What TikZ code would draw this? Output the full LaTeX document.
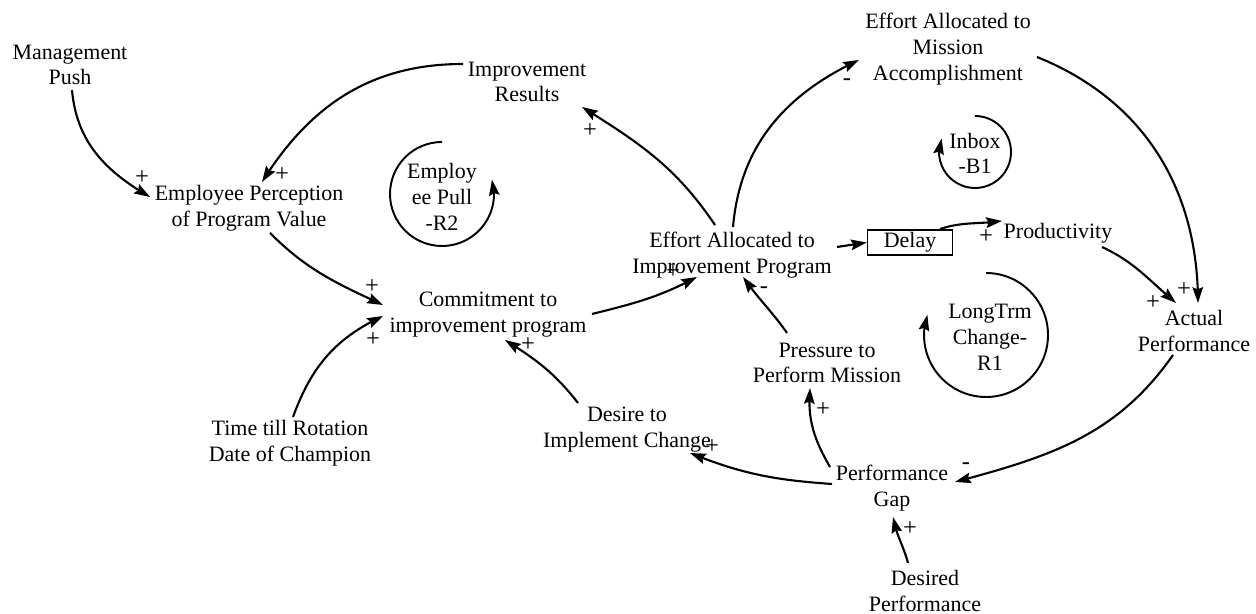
\documentclass[tikz,border=0pt]{standalone}
\usepackage{fontspec}
\setmainfont{Liberation Serif}
\usetikzlibrary{arrows.meta,bending}
\begin{document}
\begin{tikzpicture}[x=0.02cm,y=0.02cm,
  lbl/.style={align=center,inner sep=0pt,font=\fontsize{12.5}{14.7}\selectfont},
  sgn/.style={inner sep=0pt,font=\fontsize{14}{14}\selectfont},
  arr/.style={line width=1.2pt,-{Stealth[length=9pt,width=6pt,inset=1.3pt]}},
  looparc/.style={line width=1.1pt,-{Stealth[length=9pt,width=6pt,inset=1.3pt]}},
  delaybox/.style={draw,line width=0.9pt,minimum width=48.2pt,minimum height=14.2pt,inner sep=0pt,font=\fontsize{12.5}{14}\selectfont}]
\useasboundingbox (0,0) rectangle (1256,614);
\fill[white] (0,0) rectangle (1256,614);

% variables
\node[lbl] (mp)   at (70,549)   {Management\\Push};
\node[lbl] (epv)  at (249,406)  {Employee Perception\\of Program Value};
\node[lbl] (ir)   at (527,532)  {Improvement\\Results};
\node[lbl] (com)  at (488,299)  {Commitment to\\improvement program};
\node[lbl] (eai)  at (732,359)  {Effort Allocated to\\Improvement Program};
\node[delaybox] (delay) at (910,371.5) {Delay};
\node[lbl] (prod) at (1058,381) {Productivity};
\node[lbl] (eam)  at (948,565)  {Effort Allocated to\\Mission\\Accomplishment};
\node[lbl] (act)  at (1194,283) {Actual\\Performance};
\node[lbl] (pres) at (827,251)  {Pressure to\\Perform Mission};
\node[lbl] (gap)  at (892,126)  {Performance\\Gap};
\node[lbl] (des)  at (627,184)  {Desire to\\Implement Change};
\node[lbl] (time) at (290,171)  {Time till Rotation\\Date of Champion};
\node[lbl] (dp)   at (925,23)   {Desired\\Performance};

% loop labels
\node[lbl] (r2) at (442,417)   {Employ\\ee Pull\\-R2};
\node[lbl] (b1) at (975,460.5) {Inbox\\-B1};
\node[lbl] (r1) at (990,277)   {LongTrm\\Change-\\R1};
\coordinate (r2c) at (442,420);
\coordinate (b1c) at (975,462);
\coordinate (r1c) at (986,279);
\draw[looparc] ([shift={(90:52)}]r2c) arc[start angle=90,end angle=376,radius=52];
\draw[looparc] ([shift={(90:36)}]b1c) arc[start angle=90,end angle=-202,radius=36];
\draw[looparc] ([shift={(90:62)}]r1c) arc[start angle=90,end angle=-199,radius=62];

% connectors
\draw[arr] ([shift={(2,-25)}]mp.center) to[out=-85,in=150] ([shift={(-99,11)}]epv.center);
\draw[arr] ([shift={(-64,18)}]ir.center) to[out=180,in=58] ([shift={(13,26)}]epv.center);
\draw[arr] ([shift={(21,-25)}]epv.center) to[out=-45,in=155] ([shift={(-105,10)}]com.center);
\draw[arr] ([shift={(3,26)}]time.center) to[out=70,in=205] ([shift={(-105,-1)}]com.center);
\draw[arr] ([shift={(-49,27)}]des.center) to[out=128,in=-32] ([shift={(17,-25)}]com.center);
\draw[arr] ([shift={(104,1)}]com.center) to[out=14,in=-152] ([shift={(-35,-22)}]eai.center);
\draw[arr] ([shift={(-17,30)}]eai.center) to[out=124,in=-32] ([shift={(55,-25)}]ir.center);
\draw[arr] ([shift={(1,28)}]eai.center) to[out=85,in=205] ([shift={(-89,-11)}]eam.center);
\draw[arr] ([shift={(89,-8)}]eam.center) to[out=-22,in=90] ([shift={(4,28)}]act.center);
\draw[arr] ([shift={(44,-14)}]prod.center) to[out=-25,in=140] ([shift={(-18,28)}]act.center);
\draw[arr] ([shift={(105,8)}]eai.center) -- (delay.west);
\draw[arr] ([shift={(30,13.5)}]delay.center) to[out=18,in=188] ([shift={(-56,12)}]prod.center);
\draw[arr] ([shift={(-21,-24)}]act.center) to[out=235,in=15] ([shift={(63,6)}]gap.center);
\draw[arr] ([shift={(-62,21)}]gap.center) to[out=120,in=-95] ([shift={(-17,-25)}]pres.center);
\draw[arr] ([shift={(-60,4)}]gap.center) to[out=176,in=-22] ([shift={(63,-23)}]des.center);
\draw[arr] ([shift={(-40,30)}]pres.center) to[out=125,in=-55] ([shift={(11,-22)}]eai.center);
\draw[arr] ([shift={(-17,28)}]dp.center) to[out=105,in=-80] ([shift={(1,-29)}]gap.center);

% polarity signs
\node[sgn] (s1)  at (142,436)  {+};
\node[sgn] (s2)  at (282,439)  {+};
\node[sgn] (s3)  at (372,327)  {+};
\node[sgn] (s4)  at (373,274)  {+};
\node[sgn] (s5)  at (528,269)  {+};
\node[sgn] (s6)  at (590,483)  {+};
\node[sgn] (s7)  at (847,532)  {-};
\node[sgn] (s8)  at (764,324)  {-};
\node[sgn] (s9)  at (986,377)  {+};
\node[sgn] (s10) at (1184,324) {+};
\node[sgn] (s11) at (1153,311) {+};
\node[sgn] (s12) at (966,148)  {-};
\node[sgn] (s13) at (823,204)  {+};
\node[sgn] (s14) at (712,167)  {+};
\node[sgn] (s15) at (910,85)   {+};
\node[sgn] (s16) at (673,342)  {+};
\end{tikzpicture}
\end{document}
